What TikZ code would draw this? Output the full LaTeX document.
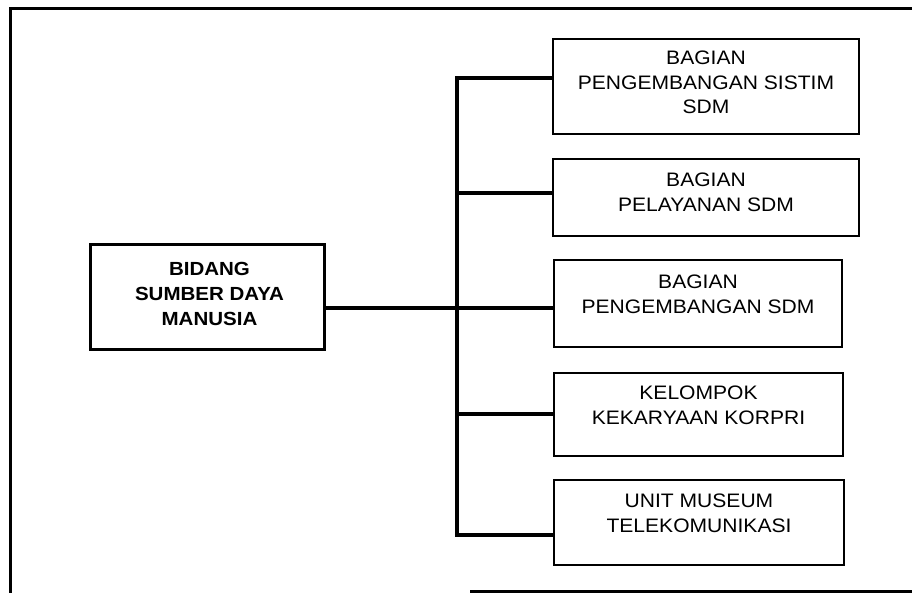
\documentclass[tikz,border=0pt]{standalone}
\usepackage{fontspec}
\setmainfont[FakeStretch=1.08]{Liberation Sans}
\usetikzlibrary{calc}
\tikzset{
  frameline/.style={line width=3pt, black},
  box/.style={draw=black, line width=2pt, rectangle, inner sep=0pt, anchor=north west},
  mainbox/.style={box, line width=3pt},
  lbl/.style={align=center, anchor=north, inner sep=0pt, font=\fontsize{19.5}{24.5}\selectfont},
  mainlbl/.style={align=center, inner sep=0pt, font=\fontsize{19}{25}\selectfont\bfseries},
  conn/.style={line width=3.2pt, black, line cap=rect}
}
\begin{document}
\begin{tikzpicture}[x=1pt,y=-1pt]
\useasboundingbox (0,0) rectangle (912,593);
% outer frame (open at right)
\draw[frameline] (912,9) -- (10,9) -- (10,593);
\draw[frameline] (470,591.5) -- (912,591.5);

% main box
\node[mainbox, minimum width=234pt, minimum height=105pt] (main) at (89,243) {};
\node[mainlbl] (tmain) at ($(main.center)+(2,-3)$) {BIDANG\\SUMBER DAYA\\MANUSIA};

% sub boxes
\node[box, minimum width=306pt, minimum height=95pt] (b1) at (552,38) {};
\node[box, minimum width=306pt, minimum height=77pt] (b2) at (552,158) {};
\node[box, minimum width=288pt, minimum height=87pt] (b3) at (553,259) {};
\node[box, minimum width=289pt, minimum height=83pt] (b4) at (553,372) {};
\node[box, minimum width=290pt, minimum height=85pt] (b5) at (553,479) {};

\node[lbl] (t1) at ($(b1.north)+(0,13)$) {BAGIAN\\PENGEMBANGAN SISTIM\\SDM};
\node[lbl] (t2) at ($(b2.north)+(0,15)$) {BAGIAN\\PELAYANAN SDM};
\node[lbl] (t3) at ($(b3.north)+(0,16)$) {BAGIAN\\PENGEMBANGAN SDM};
\node[lbl] (t4) at ($(b4.north)+(0,14)$) {KELOMPOK\\KEKARYAAN KORPRI};
\node[lbl] (t5) at ($(b5.north)+(0,15)$) {UNIT MUSEUM\\TELEKOMUNIKASI};

% junction points on the trunk
\coordinate (j1) at (457,78);
\coordinate (j2) at (457,193);
\coordinate (j3) at (457,308);
\coordinate (j4) at (457,414);
\coordinate (j5) at (457,535);

% connectors
\draw[conn] (j1 -| b1.west) -- (j1) -- (j5) -- (j5 -| b5.west);
\draw[conn] (j2) -- (j2 -| b2.west);
\draw[conn] (j3 -| main.east) -- (j3 -| b3.west);
\draw[conn] (j4) -- (j4 -| b4.west);
\end{tikzpicture}
\end{document}
